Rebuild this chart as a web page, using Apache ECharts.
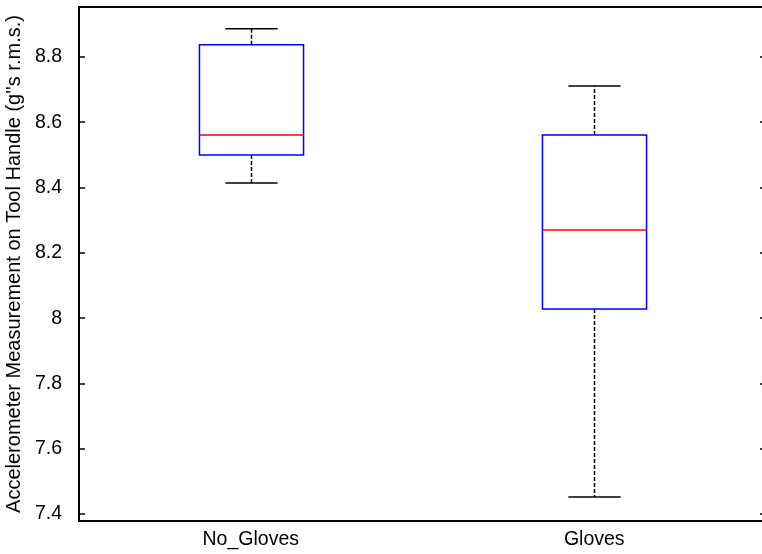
<!DOCTYPE html>
<html>
<head>
<meta charset="utf-8">
<script src="https://cdn.jsdelivr.net/npm/echarts@6/dist/echarts.min.js"></script>
<style>html,body{margin:0;padding:0;background:#fff;}#c{width:762px;height:554px;}</style>
</head>
<body>
<div id="c"></div>
<script>
var categories = ['No_Gloves', 'Gloves'];
var whiskerLow = [8.414, 7.452];
var q1 = [8.500, 8.028];
var median = [8.561, 8.270];
var q3 = [8.837, 8.561];
var whiskerHigh = [8.886, 8.711];
var yLabel = "Accelerometer Measurement on Tool Handle (g''s r.m.s.)";

var boxData = categories.map(function (c, i) {
  return [i, whiskerLow[i], q1[i], median[i], q3[i], whiskerHigh[i]];
});

var chart = echarts.init(document.getElementById('c'), null, {renderer: 'canvas'});
var font = 'Liberation Sans, Arial, sans-serif';

function renderBox(params, api) {
  var idx = api.value(0);
  var band = api.size([1, 0])[0];
  var bw = band * 0.303;
  var cw = band * 0.152;
  var pLow = api.coord([idx, api.value(1)]);
  var pQ1 = api.coord([idx, api.value(2)]);
  var pMed = api.coord([idx, api.value(3)]);
  var pQ3 = api.coord([idx, api.value(4)]);
  var pHigh = api.coord([idx, api.value(5)]);
  var x = Math.round(pMed[0]) + 0.5;
  var dash = {stroke: '#000', lineWidth: 1.5, lineDash: [4, 2]};
  var solid = {stroke: '#000', lineWidth: 1.5};
  return {
    type: 'group',
    children: [
      {type: 'line', shape: {x1: x, y1: pQ3[1], x2: x, y2: pHigh[1]}, style: dash},
      {type: 'line', shape: {x1: x, y1: pQ1[1], x2: x, y2: pLow[1]}, style: dash},
      {type: 'line', shape: {x1: x - cw / 2, y1: pHigh[1], x2: x + cw / 2, y2: pHigh[1]}, style: solid},
      {type: 'line', shape: {x1: x - cw / 2, y1: pLow[1], x2: x + cw / 2, y2: pLow[1]}, style: solid},
      {type: 'rect', shape: {x: x - bw / 2, y: pQ3[1], width: bw, height: pQ1[1] - pQ3[1]},
        style: {fill: 'none', stroke: '#0000ff', lineWidth: 1.5}},
      {type: 'line', shape: {x1: x - bw / 2, y1: pMed[1], x2: x + bw / 2, y2: pMed[1]},
        style: {stroke: '#ff0000', lineWidth: 1.5}}
    ]
  };
}

var yMin = 7.3786, yMax = 8.953;

chart.setOption({
  animation: false,
  backgroundColor: '#fff',
  grid: {left: 79, top: 7, width: 687, height: 514, outerBoundsMode: 'none', containLabel: false,
    show: true, borderColor: '#000', borderWidth: 2, backgroundColor: 'transparent'},
  xAxis: {
    type: 'category',
    data: categories,
    boundaryGap: true,
    axisLine: {show: true, lineStyle: {color: '#000', width: 2}},
    axisTick: {show: false},
    axisLabel: {color: '#000', fontFamily: font, fontSize: 19.5, margin: 9},
    splitLine: {show: false}
  },
  yAxis: [{
    type: 'value',
    min: yMin, max: yMax,
    splitNumber: 8,
    name: yLabel,
    nameLocation: 'middle',
    nameGap: 50,
    nameTextStyle: {color: '#000', fontFamily: font, fontSize: 20},
    axisLine: {show: true, lineStyle: {color: '#000', width: 2}},
    axisTick: {show: true, inside: true, length: 6, lineStyle: {color: '#000', width: 1.5}},
    axisLabel: {color: '#000', fontFamily: font, fontSize: 19.5, margin: 17, showMinLabel: false, showMaxLabel: false,
      formatter: function (v) { return String(Math.round(v * 10) / 10); }},
    splitLine: {show: false}
  }, {
    type: 'value',
    position: 'right',
    min: yMin, max: yMax,
    splitNumber: 8,
    axisLine: {show: true, lineStyle: {color: '#000', width: 2}},
    axisTick: {show: true, inside: true, length: 6, lineStyle: {color: '#000', width: 1.5}},
    axisLabel: {show: false},
    splitLine: {show: false}
  }],
  series: [{
    type: 'custom',
    renderItem: renderBox,
    data: boxData,
    encode: {x: 0, y: [1, 2, 3, 4, 5]},
    z: 10
  }]
});
</script>
</body>
</html>
